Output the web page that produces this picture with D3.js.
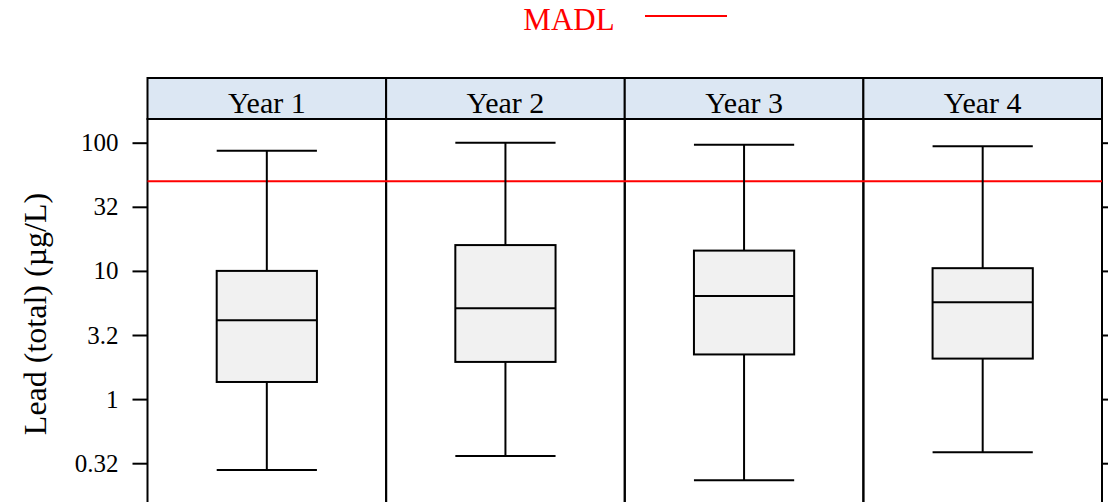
<!DOCTYPE html>
<html>
<head>
<meta charset="utf-8">
<title>Lead (total) by year</title>
<script src="https://cdn.jsdelivr.net/npm/d3@7"></script>
<style>
  body { margin: 0; background: #fff; }
  svg text { font-family: "Liberation Serif", "Times New Roman", serif; }
</style>
</head>
<body>
<svg id="chart"></svg>
<script>
// data (µg/L)
var years = ["Year 1", "Year 2", "Year 3", "Year 4"];
var whiskerLow = [0.28, 0.36, 0.233, 0.385];
var q1 = [1.36, 1.95, 2.23, 2.07];
var median = [4.12, 5.11, 6.37, 5.69];
var q3 = [10.0, 15.9, 14.4, 10.5];
var whiskerHigh = [86.6, 100, 96.5, 93.7];
var madl = 50;
var tickValues = [0.3162, 1, 3.162, 10, 31.62, 100];
var tickLabels = ["0.32", "1", "3.2", "10", "32", "100"];

var width = 1108, height = 502;
var margin = {left: 147.5, right: 6, top: 119};
var stripTop = 78, stripH = 41;
var plotRight = 1102;
var plotBottom = 560; // runs past the bottom edge of the picture

var svg = d3.select("#chart").attr("width", width).attr("height", height);

var x = d3.scaleBand().domain(years).range([margin.left, plotRight]).paddingInner(0).paddingOuter(0);
var y = d3.scaleLog().domain([0.1, 100]).range([142.7 + 3 * 128.2, 142.7]);
var boxW = x.bandwidth() * 0.42;

// panels + strips
years.forEach(function(yr) {
  svg.append("rect")
    .attr("x", x(yr)).attr("y", margin.top)
    .attr("width", x.bandwidth()).attr("height", plotBottom - margin.top)
    .attr("fill", "none").attr("stroke", "#000").attr("stroke-width", 2);
  svg.append("rect")
    .attr("x", x(yr)).attr("y", stripTop)
    .attr("width", x.bandwidth()).attr("height", stripH)
    .attr("fill", "#dce7f3").attr("stroke", "#000").attr("stroke-width", 2);
  svg.append("text")
    .attr("x", x(yr) + x.bandwidth() / 2).attr("y", stripTop + 35)
    .attr("text-anchor", "middle").style("font-size", "30px")
    .text(yr);
});

// axes
var axisL = d3.axisLeft(y).tickValues(tickValues)
  .tickFormat(function(d, i) { return tickLabels[i]; })
  .tickSize(15).tickPadding(14);
var gL = svg.append("g").attr("transform", "translate(" + margin.left + ",0)").call(axisL);
gL.select(".domain").remove();
gL.selectAll("line").attr("stroke-width", 2);
gL.selectAll("text").style("font-size", "25px").attr("fill", "#000")
  .attr("font-family", "Liberation Serif");

var axisR = d3.axisRight(y).tickValues(tickValues).tickFormat("").tickSize(15);
var gR = svg.append("g").attr("transform", "translate(" + plotRight + ",0)").call(axisR);
gR.select(".domain").remove();
gR.selectAll("line").attr("stroke-width", 2);

// y label
svg.append("text")
  .attr("transform", "translate(46," + 314 + ")rotate(-90)")
  .attr("text-anchor", "middle").style("font-size", "32px")
  .text("Lead (total) (µg/L)");

// MADL reference line
svg.append("line")
  .attr("x1", margin.left).attr("x2", plotRight)
  .attr("y1", y(madl)).attr("y2", y(madl))
  .attr("stroke", "#ff0000").attr("stroke-width", 2);

// boxes
var boxG = svg.append("g");
years.forEach(function(yr, i) {
  var cx = x(yr) + x.bandwidth() / 2;
  var g = boxG.append("g").attr("stroke", "#000").attr("stroke-width", 2);
  g.append("line").attr("x1", cx).attr("x2", cx).attr("y1", y(whiskerHigh[i])).attr("y2", y(q3[i]));
  g.append("line").attr("x1", cx).attr("x2", cx).attr("y1", y(q1[i])).attr("y2", y(whiskerLow[i]));
  g.append("line").attr("x1", cx - boxW / 2).attr("x2", cx + boxW / 2)
    .attr("y1", y(whiskerHigh[i])).attr("y2", y(whiskerHigh[i]));
  g.append("line").attr("x1", cx - boxW / 2).attr("x2", cx + boxW / 2)
    .attr("y1", y(whiskerLow[i])).attr("y2", y(whiskerLow[i]));
  g.append("rect").attr("x", cx - boxW / 2).attr("width", boxW)
    .attr("y", y(q3[i])).attr("height", y(q1[i]) - y(q3[i]))
    .attr("fill", "#f1f1f1");
  g.append("line").attr("x1", cx - boxW / 2).attr("x2", cx + boxW / 2)
    .attr("y1", y(median[i])).attr("y2", y(median[i]));
});

// legend
svg.append("text").attr("x", 569).attr("y", 30)
  .attr("text-anchor", "middle").attr("fill", "#ff0000")
  .style("font-size", "31px").text("MADL");
svg.append("line").attr("x1", 645).attr("x2", 727).attr("y1", 16).attr("y2", 16)
  .attr("stroke", "#ff0000").attr("stroke-width", 2);
</script>
</body>
</html>
